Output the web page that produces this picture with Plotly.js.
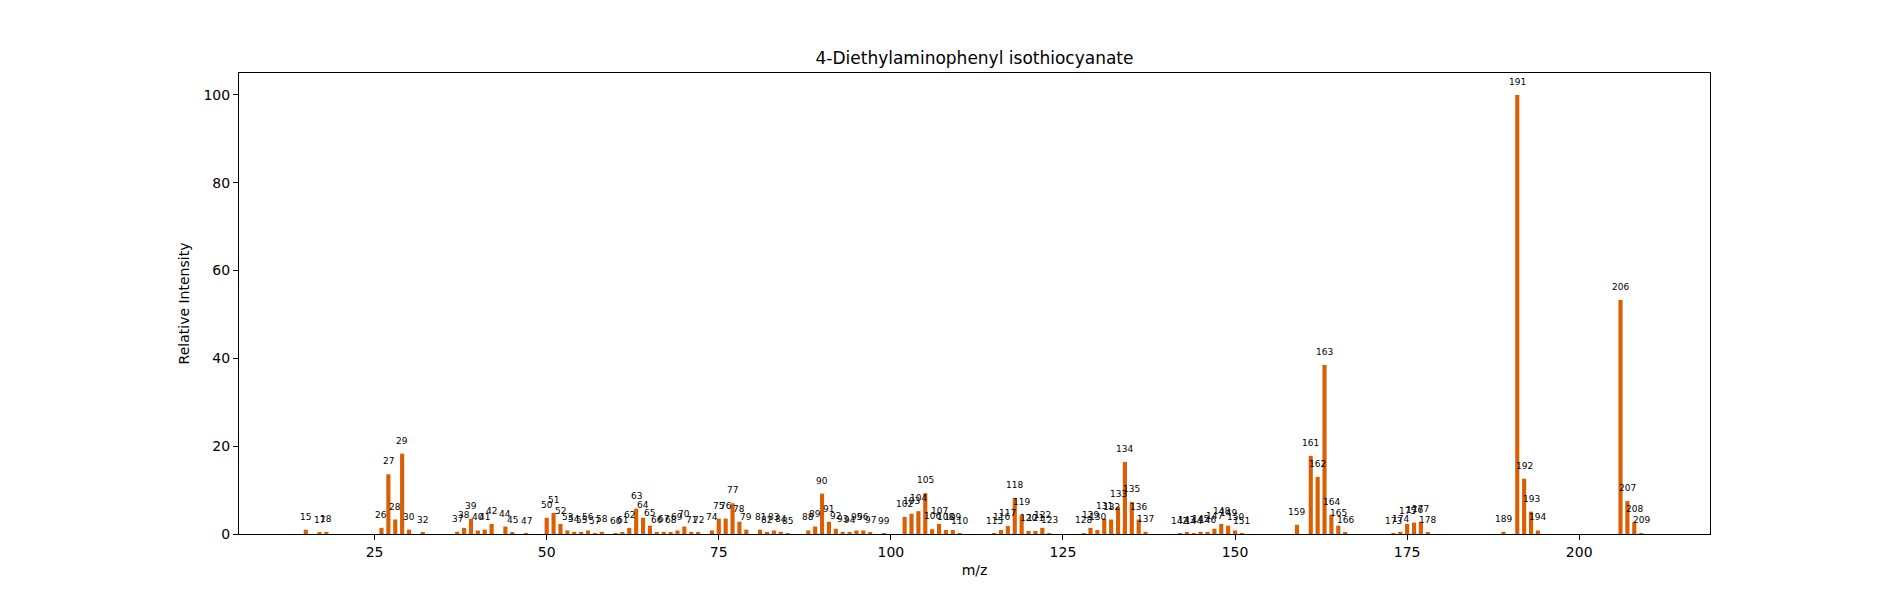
<!DOCTYPE html>
<html>
<head>
<meta charset="utf-8">
<script src="https://cdn.plot.ly/plotly-3.0.1.min.js"></script>
<style>body{margin:0;background:#fff}</style>
</head>
<body>
<div id="chart" style="width:1900px;height:600px;"></div>
<script>
// m/z values and relative intensities
const mz = [15,17,18,26,27,28,29,30,32,37,38,39,40,41,42,44,45,47,
  50,51,52,53,54,55,56,57,58,60,61,62,63,64,65,66,67,68,69,70,71,72,74,75,76,77,78,79,
  81,82,83,84,85,88,89,90,91,92,93,94,95,96,97,99,102,103,104,105,106,107,108,109,110,
  115,116,117,118,119,120,121,122,123,128,129,130,131,132,133,134,135,136,137,
  142,143,144,145,146,147,148,149,150,151,159,161,162,163,164,165,166,
  173,174,175,176,177,178,189,191,192,193,194,206,207,208,209];
const intensity = [1.0,0.3,0.5,1.4,13.6,3.3,18.3,1.0,0.3,0.5,1.4,3.5,0.8,1.0,2.3,1.7,0.3,0.1,
  3.7,4.8,2.3,0.8,0.5,0.3,0.8,0.1,0.5,0.1,0.3,1.4,5.8,3.7,1.9,0.3,0.5,0.3,0.8,1.7,0.3,0.3,0.8,3.5,3.5,7.0,2.8,1.0,
  1.0,0.3,0.8,0.5,0.1,0.8,1.7,9.2,2.8,1.2,0.5,0.3,0.8,0.8,0.3,0.1,3.9,4.6,5.2,9.3,1.1,2.3,0.9,0.9,0.1,
  0.1,0.9,1.8,8.2,4.3,0.7,0.7,1.4,0.2,0.2,1.4,0.9,3.5,3.3,6.2,16.4,7.3,3.3,0.5,
  0.1,0.3,0.1,0.5,0.3,1.2,2.3,1.9,0.8,0.1,2.1,17.8,13.0,38.5,4.4,1.9,0.3,
  0.1,0.5,2.3,2.6,2.8,0.3,0.5,100,12.6,5.1,0.8,53.3,7.5,2.7,0.2];

const font = 'DejaVu Sans, sans-serif';
const bars = {
  type: 'bar', x: mz, y: intensity, width: 0.6,
  marker: {color: '#d95f02'}, hoverinfo: 'x+y'
};

// peak labels sit a little above each bar, like the reference
const annotations = mz.map((m, i) => ({
  x: m, y: intensity[i], xref: 'x', yref: 'y', text: String(m),
  showarrow: false, yanchor: 'bottom', yshift: 6,
  font: {family: font, size: 9, color: '#000'}
}));

const axis = {
  showgrid: false, zeroline: false, showline: true, mirror: true,
  linecolor: '#000', linewidth: 1, ticks: 'outside', ticklen: 5,
  tickcolor: '#000', tickfont: {family: font, size: 14, color: '#000'}
};

const layout = {
  width: 1900, height: 600,
  margin: {l: 239, r: 190, t: 73, b: 66},
  paper_bgcolor: '#fff', plot_bgcolor: '#fff',
  showlegend: false,
  annotations: annotations,
  title: {text: '4-Diethylaminophenyl isothiocyanate', x: 0.5, xref: 'paper',
    y: 1 - 58 / 600, yanchor: 'middle', font: {family: font, size: 17, color: '#000'}},
  xaxis: Object.assign({}, axis, {range: [5.3, 219], tickvals: [25, 50, 75, 100, 125, 150, 175, 200],
    title: {text: 'm/z', font: {family: font, size: 14, color: '#000'}, standoff: 6}}),
  yaxis: Object.assign({}, axis, {range: [0, 105], tickvals: [0, 20, 40, 60, 80, 100],
    title: {text: 'Relative Intensity', font: {family: font, size: 14, color: '#000'}, standoff: 10}})
};

Plotly.newPlot('chart', [bars], layout, {displayModeBar: false});
</script>
</body>
</html>
